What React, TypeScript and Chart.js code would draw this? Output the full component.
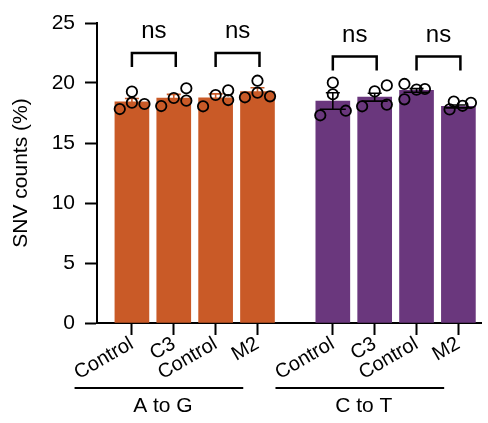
import { useEffect, useRef } from 'react';
import { Chart, registerables } from 'chart.js';

Chart.register(...registerables);

// ---------- data ----------
const categories = ['Control', 'C3', 'Control', 'M2', 'Control', 'C3', 'Control', 'M2'];
const xPositions = [0, 1, 2, 3, 4.8, 5.8, 6.8, 7.8];
const groupNames = ['A to G', 'C to T'];
const groupMembers = [[0, 1, 2, 3], [4, 5, 6, 7]];
const means = [18.44, 18.75, 18.76, 19.28, 18.5, 18.82, 19.38, 18.05];
const sems = [0.27, 0.3, 0.33, 0.32, 0.69, 0.33, 0.15, 0.12];
const pointValues = [
  [17.83, 18.36, 19.28, 18.25],
  [18.08, 18.75, 19.56, 18.53],
  [18.06, 19.0, 19.39, 18.58],
  [18.81, 20.19, 19.19, 18.89],
  [17.31, 19.06, 20.03, 17.69],
  [18.06, 19.3, 19.8, 18.2],
  [19.92, 18.64, 19.45, 19.5],
  [17.8, 18.45, 18.1, 18.35],
];
const pointJitter = [
  [-0.29, 0, 0, 0.3],
  [-0.3, 0, 0.3, 0.3],
  [-0.3, 0, 0.3, 0.3],
  [-0.3, 0, 0, 0.3],
  [-0.3, 0, 0, 0.31],
  [-0.3, 0, 0.29, 0.29],
  [-0.29, -0.29, 0, 0.2],
  [-0.21, -0.11, 0.1, 0.3],
];
const comparisons = [[0, 1], [2, 3], [4, 5], [6, 7]];
const comparisonLabels = ['ns', 'ns', 'ns', 'ns'];
const bracketLevels = [22.5, 22.5, 22.2, 22.2];
const yTickStep = 5;
const yMin = 0;
const yMax = 25;
const yTitle = 'SNV counts (%)';

// ---------- styles ----------
const ORANGE = '#C95A27';
const PURPLE = '#6A377D';
const groupColors = [ORANGE, PURPLE];
const FONT = '"Liberation Sans", Arial, sans-serif';

function barColor(i: number) {
  return groupMembers[0].includes(i) ? groupColors[0] : groupColors[1];
}

const annotationPlugin = {
  id: 'annotations',
  beforeDatasetDraw(chart: any, args: any) {
    if (args.meta.type !== 'scatter') return;
    const ctx = chart.ctx;
    const xs = chart.scales.x;
    const ys = chart.scales.y;
    ctx.save();
    means.forEach((m, i) => {
      const cx = xs.getPixelForValue(xPositions[i]);
      const top = ys.getPixelForValue(m + sems[i]);
      const bot = ys.getPixelForValue(m - sems[i]);
      const col = groupMembers[0].includes(i) ? ORANGE : '#000';
      ctx.strokeStyle = col;
      ctx.lineWidth = 1.6;
      ctx.beginPath();
      ctx.moveTo(cx, top);
      ctx.lineTo(cx, bot);
      ctx.moveTo(cx - 7, top);
      ctx.lineTo(cx + 7, top);
      ctx.moveTo(cx - 13, bot);
      ctx.lineTo(cx + 13, bot);
      ctx.stroke();
    });
    ctx.restore();
  },
  afterDraw(chart: any) {
    const ctx = chart.ctx;
    const xs = chart.scales.x;
    const ys = chart.scales.y;
    ctx.save();
    // significance brackets
    comparisons.forEach(([a, b], k) => {
      const x1 = xs.getPixelForValue(xPositions[a]);
      const x2 = xs.getPixelForValue(xPositions[b]) + 2;
      const yTop = ys.getPixelForValue(bracketLevels[k]);
      const yBot = yTop + 14;
      ctx.strokeStyle = '#000';
      ctx.lineWidth = 2.5;
      ctx.lineCap = 'butt';
      ctx.lineJoin = 'miter';
      ctx.beginPath();
      ctx.moveTo(x1, yBot);
      ctx.lineTo(x1, yTop);
      ctx.lineTo(x2, yTop);
      ctx.lineTo(x2, yBot);
      ctx.stroke();
      ctx.fillStyle = '#000';
      ctx.font = `24px ${FONT}`;
      ctx.textAlign = 'center';
      ctx.textBaseline = 'alphabetic';
      ctx.fillText(comparisonLabels[k], (x1 + x2) / 2, yTop - 15);
    });
    // group lines and labels
    const base = xs.top;
    groupMembers.forEach((members, g) => {
      const first = xPositions[members[0]];
      const last = xPositions[members[members.length - 1]];
      const lx1 = xs.getPixelForValue(first - 1.37);
      const lx2 = xs.getPixelForValue(last - 0.34);
      const ly = base + 65;
      ctx.strokeStyle = '#000';
      ctx.lineWidth = 2;
      ctx.beginPath();
      ctx.moveTo(lx1, ly);
      ctx.lineTo(lx2, ly);
      ctx.stroke();
      ctx.fillStyle = '#000';
      ctx.font = `21px ${FONT}`;
      ctx.textAlign = 'center';
      ctx.textBaseline = 'middle';
      ctx.fillText(groupNames[g], (lx1 + lx2) / 2 + 4, ly + 18);
    });
    ctx.restore();
  },
};

export default function App() {
  const canvasRef = useRef<HTMLCanvasElement | null>(null);

  useEffect(() => {
    const canvas = canvasRef.current;
    if (!canvas) return;
    const scatterData: { x: number; y: number }[] = [];
    pointValues.forEach((vals, i) => {
      vals.forEach((v, j) => {
        scatterData.push({ x: xPositions[i] + pointJitter[i][j], y: v });
      });
    });

    const chart = new Chart(canvas, {
      type: 'bar',
      data: {
        datasets: [
          {
            type: 'scatter',
            data: scatterData,
            pointRadius: 5.2,
            pointHoverRadius: 5.2,
            borderColor: '#000',
            backgroundColor: 'rgba(0,0,0,0)',
            borderWidth: 1.8,
            order: 0,
          } as any,
          {
            type: 'bar',
            data: xPositions.map((x, i) => ({ x, y: means[i] })),
            backgroundColor: xPositions.map((_, i) => barColor(i)),
            borderWidth: 0,
            barThickness: 34,
            order: 1,
          } as any,
        ],
      },
      options: {
        responsive: false,
        animation: false,
        layout: { padding: { left: 0, right: 3, top: 23, bottom: 0 } },
        plugins: { legend: { display: false }, tooltip: { enabled: false } },
        scales: {
          x: {
            type: 'linear',
            min: -0.834,
            max: 8.34,
            offset: false,
            grid: {
              display: true,
              drawOnChartArea: false,
              offset: false,
              tickLength: 12,
              tickWidth: 2,
              tickColor: '#000',
            },
            border: { display: true, width: 2, color: '#000' },
            ticks: {
              autoSkip: false,
              minRotation: 30,
              maxRotation: 30,
              padding: -3,
              color: '#000',
              font: { size: 20, family: FONT },
              callback: (_v: any, i: number) => categories[i],
            },
            afterBuildTicks: (scale: any) => {
              scale.ticks = xPositions.map((v) => ({ value: v }));
            },
            afterFit: (scale: any) => {
              scale.height = 100;
            },
          },
          y: {
            min: yMin,
            max: yMax,
            grid: {
              display: true,
              drawOnChartArea: false,
              tickLength: 12,
              tickWidth: 2,
              tickColor: '#000',
            },
            border: { display: true, width: 2, color: '#000' },
            ticks: {
              stepSize: yTickStep,
              padding: 10,
              color: '#000',
              font: { size: 21, family: FONT },
            },
            title: {
              display: true,
              text: yTitle,
              color: '#000',
              font: { size: 21, family: FONT },
              padding: { top: 9, bottom: 0 },
            },
            afterFit: (scale: any) => {
              scale.width = 97;
            },
          },
        },
      } as any,
      plugins: [annotationPlugin],
    });
    return () => chart.destroy();
  }, []);

  return (
    <div style={{ position: 'fixed', left: 0, top: 0, width: 488, height: 423, background: '#fff' }}>
      <canvas ref={canvasRef} width={488} height={423} style={{ display: 'block' }} />
    </div>
  );
}
